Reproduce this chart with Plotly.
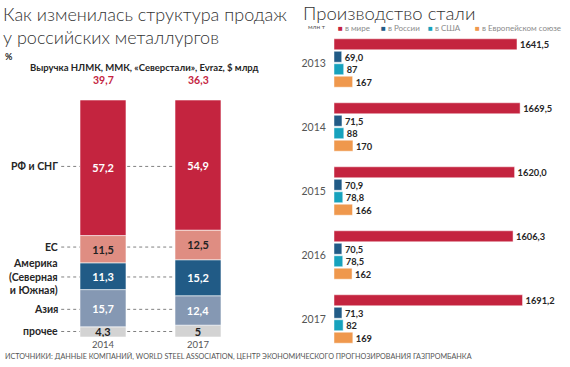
import plotly.graph_objects as go

# ---------------- data ----------------
sales_years = ["2014", "2017"]
revenue = [39.7, 36.3]  # $ bn
regions = ["прочее", "Азия", "Америка<br>(Северная<br>и Южная)", "ЕС", "РФ и СНГ"]
share_2014 = [4.3, 15.7, 11.3, 11.5, 57.2]
share_2017 = [5.0, 12.4, 15.2, 12.5, 54.9]
region_colors = ["#D3D3D3", "#8598B3", "#215B86", "#DF8D82", "#C4243F"]
region_text_colors = ["#222222", "#FFFFFF", "#FFFFFF", "#222222", "#FFFFFF"]

steel_years = ["2013", "2014", "2015", "2016", "2017"]
world = [1641.5, 1669.5, 1620.0, 1606.3, 1691.2]
russia = [69.0, 71.5, 70.9, 70.5, 71.3]
usa = [87, 88, 78.8, 78.5, 82]
eu = [167, 170, 166, 162, 169]
steel_names = ["в мире", "в России", "в США", "в Европейском союзе"]
steel_colors = ["#C4243F", "#215B86", "#17A2BD", "#EF984D"]

W, H = 570, 367
FONT = "Lato"
DARK = "#262626"


def px_x(p):
    return p / W


def px_y(p):
    return 1 - p / H


def fmt_g(v):
    return f"{v:g}".replace(".", ",")


def fmt_1(v):
    return f"{v:.1f}".replace(".", ",")


fig = go.Figure()

# ---------------- left: stacked bars (explicit base, same offset group) ----------------
base14, base17 = 0.0, 0.0
for i, name in enumerate(regions):
    vals = [share_2014[i], share_2017[i]]
    fig.add_trace(go.Bar(
        x=[0, 1], y=vals, base=[base14, base17], width=0.484,
        offsetgroup="sales", alignmentgroup="sales",
        marker=dict(color=region_colors[i], line=dict(color="rgba(255,255,255,0.7)", width=0.8)),
        text=[fmt_g(v) for v in vals], textposition="inside", insidetextanchor="middle",
        textangle=0, constraintext="none",
        textfont=dict(family=FONT, size=11, color=region_text_colors[i], weight="bold"),
        xaxis="x", yaxis="y", showlegend=False, hoverinfo="skip", name=name.replace("<br>", " "),
    ))
    m14 = base14 + share_2014[i] / 2
    m17 = base17 + share_2017[i] / 2
    base14 += share_2014[i]
    base17 += share_2017[i]
    ym = (m14 + m17) / 2
    fig.add_annotation(x=-0.455, y=ym, xref="x", yref="y", text=name, showarrow=False,
                       xanchor="right", align="right",
                       font=dict(family=FONT, size=10.5, color=DARK, weight="bold"))
    fig.add_shape(type="line", xref="x", yref="y", x0=-0.44, x1=1.0, y0=ym, y1=ym,
                  line=dict(color="#808080", width=1, dash="dot"), layer="below")

# revenue values above bars
for j, v in enumerate(revenue):
    fig.add_annotation(x=j, y=px_y(80), xref="x", yref="paper", text=fmt_g(v), showarrow=False,
                       xanchor="center", yanchor="middle",
                       font=dict(family=FONT, size=10.5, color="#C4243F", weight="bold"))

# year labels under bars
for j, yr in enumerate(sales_years):
    fig.add_annotation(x=j, y=px_y(338), xref="x", yref="paper", text=yr, showarrow=False,
                       xanchor="center", yanchor="top", borderpad=0,
                       font=dict(family=FONT, size=9.5, color="#555555"))

# ---------------- right: horizontal grouped bars ----------------
steel_series = [world, russia, usa, eu]
for k, series in enumerate(steel_series):
    fmt = fmt_1 if k < 2 else fmt_g
    fig.add_trace(go.Bar(
        y=steel_years, x=series, orientation="h", name=steel_names[k],
        marker=dict(color=steel_colors[k], line=dict(color="rgba(255,255,255,0.6)", width=0.8)),
        text=[fmt(v) for v in series], textposition="outside",
        textfont=dict(family=FONT, size=11, color=DARK, weight="bold"),
        cliponaxis=False, xaxis="x2", yaxis="y2", showlegend=False, hoverinfo="skip",
    ))

# legend (text annotations)
leg_x = [336, 379, 426, 473]
for k, name in enumerate(steel_names):
    fig.add_annotation(
        x=px_x(leg_x[k]), y=px_y(28), xref="paper", yref="paper", xanchor="left", yanchor="middle",
        text=f"<span style='color:{steel_colors[k]}'>■</span> {name}", showarrow=False,
        font=dict(family=FONT, size=8, color="#8a8a8a"))
fig.add_annotation(x=px_x(306), y=px_y(27), xref="paper", yref="paper", xanchor="left",
                   yanchor="middle", text="млн т", showarrow=False,
                   font=dict(family=FONT, size=6.5, color="#555555"))

# ---------------- titles & texts ----------------
fig.add_annotation(x=px_x(1), y=px_y(1), xref="paper", yref="paper", xanchor="left", yanchor="top",
                   text="Как изменилась структура продаж<br>у российских металлургов", showarrow=False,
                   align="left", font=dict(family=FONT, size=18, color="#333333", weight=300))
fig.add_annotation(x=px_x(301), y=px_y(0), xref="paper", yref="paper", xanchor="left", yanchor="top",
                   text="Производство стали", showarrow=False,
                   font=dict(family=FONT, size=18.5, color="#333333", weight=300))
fig.add_annotation(x=px_x(3), y=px_y(57), xref="paper", yref="paper", xanchor="left", yanchor="middle",
                   text="%", showarrow=False, font=dict(family=FONT, size=9, color=DARK, weight="bold"))
fig.add_annotation(x=px_x(144), y=px_y(67), xref="paper", yref="paper", xanchor="center",
                   yanchor="middle", text="Выручка НЛМК, ММК, «Северстали», Evraz, $ млрд",
                   showarrow=False, font=dict(family=FONT, size=9.5, color=DARK, weight="bold"))
fig.add_annotation(x=px_x(4), y=px_y(356), xref="paper", yref="paper", xanchor="left", yanchor="middle",
                   borderpad=0,
                   text="ИСТОЧНИКИ: ДАННЫЕ КОМПАНИЙ, WORLD STEEL ASSOCIATION, ЦЕНТР ЭКОНОМИЧЕСКОГО ПРОГНОЗИРОВАНИЯ ГАЗПРОМБАНКА",
                   showarrow=False, font=dict(family=FONT, size=7.2, color="#555555"))

# ---------------- layout ----------------
fig.update_layout(
    width=W, height=H, margin=dict(l=0, r=0, t=0, b=0),
    paper_bgcolor="white", plot_bgcolor="white",
    barmode="group", bargap=0.22, bargroupgap=0.12,
    font=dict(family=FONT),
    xaxis=dict(domain=[px_x(55.5), px_x(245.5)], range=[-0.5, 1.5], visible=False),
    yaxis=dict(domain=[px_y(337), px_y(100)], range=[0, 100], visible=False),
    xaxis2=dict(domain=[px_x(334), 1], range=[0, 2117], visible=False, anchor="y2"),
    yaxis2=dict(domain=[px_y(351), px_y(31)], range=[4.5, -0.5], type="category",
                anchor="x2", showgrid=False, zeroline=False, showline=False,
                ticks="outside", ticklen=5, tickcolor="rgba(0,0,0,0)",
                tickfont=dict(family=FONT, size=10.5, color="#555555")),
)

fig.write_html("out.html", config={"displayModeBar": False},
               post_script="document.body.style.margin='0';")
